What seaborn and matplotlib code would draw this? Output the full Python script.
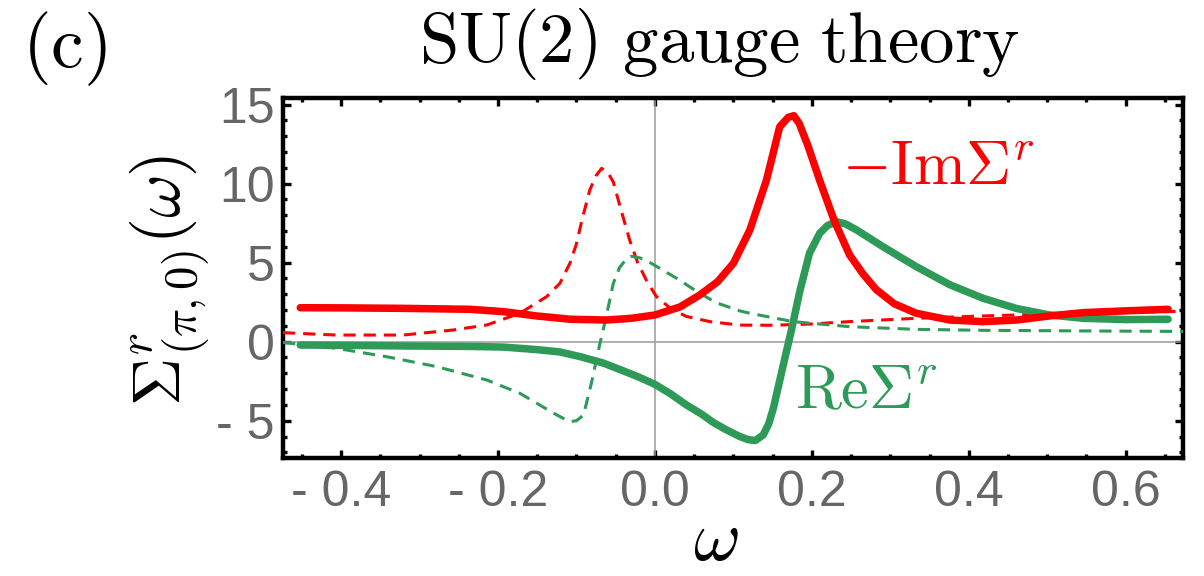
import numpy as np
import pandas as pd
import matplotlib
matplotlib.use("Agg")
import matplotlib.pyplot as plt
import seaborn as sns
from matplotlib.ticker import FixedLocator, MultipleLocator

# ---------------- data ----------------
# SU(2) gauge theory: -Im Sigma^r (solid red)
x_im_su2 = [-0.452, -0.40, -0.321, -0.236, -0.193, -0.151, -0.108, -0.062, -0.030, 0.0,
            0.032, 0.057, 0.080, 0.100, 0.121, 0.142, 0.159, 0.170, 0.177, 0.184,
            0.195, 0.210, 0.229, 0.248, 0.265, 0.282, 0.305, 0.333, 0.376, 0.418,
            0.461, 0.503, 0.546, 0.600, 0.654]
y_im_su2 = [2.15, 2.14, 2.11, 2.05, 1.90, 1.63, 1.42, 1.37, 1.48, 1.69,
            2.20, 2.95, 3.80, 4.96, 7.07, 10.2, 13.6, 14.2, 14.3, 13.8,
            12.4, 10.2, 7.6, 5.5, 4.3, 3.3, 2.4, 1.8, 1.37, 1.27,
            1.37, 1.63, 1.84, 1.95, 2.05]

# SU(2) gauge theory: Re Sigma^r (solid green)
x_re_su2 = [-0.452, -0.40, -0.321, -0.236, -0.193, -0.151, -0.121, -0.095, -0.066, -0.040,
            -0.020, 0.0, 0.020, 0.040, 0.060, 0.074, 0.090, 0.108, 0.119, 0.128,
            0.138, 0.145, 0.151, 0.157, 0.163, 0.174, 0.185, 0.197, 0.210, 0.220,
            0.231, 0.243, 0.257, 0.291, 0.333, 0.376, 0.418, 0.461, 0.503, 0.546,
            0.600, 0.654]
y_re_su2 = [-0.21, -0.23, -0.27, -0.30, -0.34, -0.50, -0.65, -0.95, -1.35, -1.85,
            -2.25, -2.7, -3.3, -4.0, -4.6, -5.1, -5.55, -6.0, -6.2, -6.25,
            -5.9, -5.2, -4.2, -2.9, -1.6, 0.74, 3.27, 5.6, 6.86, 7.35,
            7.6, 7.45, 7.07, 6.0, 4.75, 3.6, 2.75, 2.1, 1.69, 1.48,
            1.40, 1.42]

# reference curve: -Im Sigma^r (dashed red)
x_im_ref = [-0.474, -0.406, -0.321, -0.257, -0.214, -0.172, -0.138, -0.121, -0.108, -0.100,
            -0.093, -0.083, -0.075, -0.068, -0.060, -0.053, -0.043, -0.032, -0.022, -0.010,
            0.002, 0.020, 0.040, 0.070, 0.108, 0.150, 0.200, 0.248, 0.333, 0.418,
            0.503, 0.600, 0.673]
y_im_ref = [0.57, 0.42, 0.42, 0.74, 1.06, 1.8, 2.85, 3.7, 5.0, 6.2,
            7.7, 9.6, 10.5, 10.97, 10.7, 10.1, 8.3, 6.4, 5.0, 3.8,
            2.85, 2.1, 1.6, 1.27, 1.05, 1.04, 1.12, 1.27, 1.48, 1.63,
            1.75, 1.85, 1.92]

# reference curve: Re Sigma^r (dashed green)
x_re_ref = [-0.474, -0.406, -0.342, -0.278, -0.214, -0.172, -0.130, -0.115, -0.108, -0.100,
            -0.091, -0.081, -0.070, -0.062, -0.053, -0.045, -0.037, -0.030, -0.019, -0.006,
            0.006, 0.028, 0.045, 0.061, 0.079, 0.108, 0.121, 0.176, 0.248, 0.333,
            0.418, 0.550, 0.673]
y_re_ref = [-0.05, -0.42, -0.95, -1.58, -2.43, -3.27, -4.5, -4.9, -5.06, -5.0,
            -4.64, -2.63, -0.1, 1.6, 3.7, 4.7, 5.2, 5.4, 5.3, 5.0,
            4.65, 4.0, 3.45, 2.95, 2.45, 1.95, 1.8, 1.27, 0.95, 0.78,
            0.72, 0.68, 0.65]

x_ticks = [-0.4, -0.2, 0.0, 0.2, 0.4, 0.6]
x_tick_labels = ["- 0.4", "- 0.2", "0.0", "0.2", "0.4", "0.6"]
y_ticks = [-5, 0, 5, 10, 15]
y_tick_labels = ["- 5", "0", "5", "10", "15"]

# ---------------- style ----------------
sns.set_theme(style="white")
plt.rcParams["font.family"] = ["Liberation Sans", "DejaVu Sans"]
plt.rcParams["mathtext.fontset"] = "cm"
plt.rcParams["lines.dashed_pattern"] = [4.0, 2.6]

RED = "#ff0000"
GREEN = "#2e9a58"
TICK_GRAY = "#666666"

fig = plt.figure(figsize=(12.04, 5.76), dpi=100)
ax = fig.add_axes([283 / 1204, 1 - 458 / 576, 900 / 1204, 360 / 576])

ax.axhline(0, color="#9a9a9a", lw=1.1, zorder=1)
ax.axvline(0, color="#9a9a9a", lw=1.1, zorder=1)

sns.lineplot(x=x_im_ref, y=y_im_ref, ax=ax, color=RED, lw=2.2, linestyle="--", sort=False, zorder=3)
sns.lineplot(x=x_re_ref, y=y_re_ref, ax=ax, color=GREEN, lw=2.2, linestyle="--", sort=False, zorder=3)
sns.lineplot(x=x_re_su2, y=y_re_su2, ax=ax, color=GREEN, lw=5.4, sort=False, zorder=4)
sns.lineplot(x=x_im_su2, y=y_im_su2, ax=ax, color=RED, lw=5.4, sort=False, zorder=5)

ax.set_xlim(-0.474, 0.673)
ax.set_ylim(-7.36, 15.42)

ax.xaxis.set_major_locator(FixedLocator(x_ticks))
ax.set_xticklabels(x_tick_labels)
ax.xaxis.set_minor_locator(MultipleLocator(0.05))
ax.yaxis.set_major_locator(FixedLocator(y_ticks))
ax.set_yticklabels(y_tick_labels)
ax.yaxis.set_minor_locator(MultipleLocator(1))

ax.tick_params(which="both", direction="in", top=True, right=True, bottom=True, left=True,
               color="black", width=2.4)
ax.tick_params(which="major", length=5.5, labelsize=36, labelcolor=TICK_GRAY)
ax.tick_params(axis="x", which="major", pad=9)
ax.tick_params(axis="y", which="major", pad=6)
ax.tick_params(which="minor", length=3.2)

for s in ax.spines.values():
    s.set_visible(True)
    s.set_color("black")
    s.set_linewidth(3.2)

ax.set_xlabel("")
ax.set_ylabel("")

# annotations
ax.text(0.239, 9.9, r"$-\mathrm{Im}\Sigma^r$", color=RED, fontsize=45, ha="left", va="baseline")
ax.text(0.178, -4.2, r"$\mathrm{Re}\Sigma^r$", color=GREEN, fontsize=45, ha="left", va="baseline")

# titles / labels
fig.text(719 / 1204, 1 - 62 / 576, r"$\mathrm{SU(2)\ gauge\ theory}$", fontsize=51,
         ha="center", va="baseline", color="black")
fig.text(22 / 1204, 1 - 49 / 576, r"$\mathrm{(c)}$", fontsize=53, ha="left", va="center", color="black")
fig.text(716 / 1204, 1 - 560 / 576, r"$\omega$", fontsize=52, ha="center", va="baseline", color="black")
fig.text(170 / 1204, 1 - 280 / 576, r"$\Sigma^r_{(\pi,0)}(\omega)$", fontsize=48, rotation=90,
         ha="center", va="center", color="black")

fig.savefig("out.png", dpi=100)
